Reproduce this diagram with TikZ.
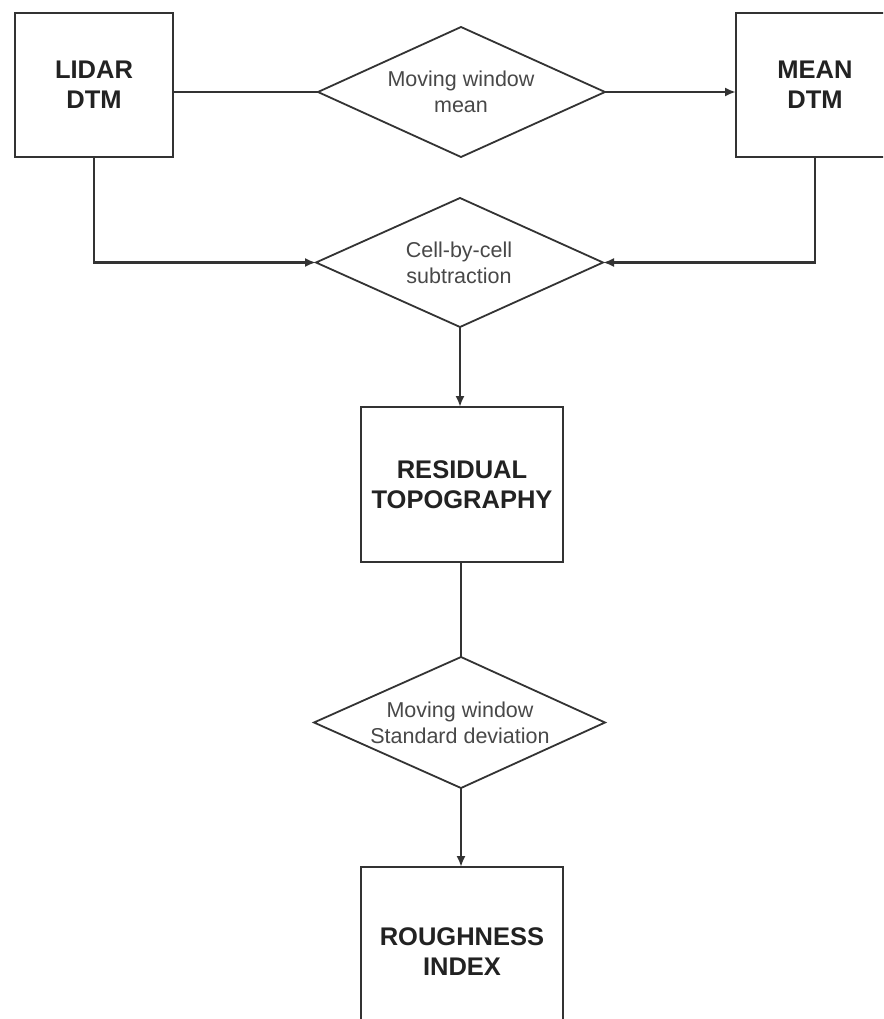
\documentclass[tikz,border=0pt]{standalone}
\usepackage{fontspec}
\setmainfont{Liberation Sans}
\usetikzlibrary{arrows.meta}
\definecolor{linec}{HTML}{333333}
\definecolor{boxtext}{HTML}{222222}
\definecolor{diatext}{HTML}{484848}
\tikzset{
  box/.style={draw=linec, line width=2.2pt, fill=white, align=center, inner sep=0pt, outer sep=0pt,
    text=boxtext, font=\fontsize{25.5}{30}\selectfont\bfseries},
  diatxt/.style={align=center, inner sep=0pt, outer sep=0pt,
    text=diatext, font=\fontsize{21.5}{26}\selectfont},
  diaedge/.style={draw=linec, line width=1.8pt, line join=miter},
  conn/.style={draw=linec, line width=2.2pt},
  arr/.style={conn, -{Latex[length=11pt,width=9pt]}}
}
\begin{document}
\begin{tikzpicture}[x=1pt,y=-1pt]
\useasboundingbox (0,0) rectangle (883,1019);
\clip (0,0) rectangle (883,1019);
\fill[white] (0,0) rectangle (883,1019);
% boxes
\node[box, minimum width=158pt, minimum height=144pt] (lidar) at (94,85) {LIDAR\\DTM};
\node[box, minimum width=158pt, minimum height=144pt] (mean) at (815,85) {MEAN\\DTM};
\node[box, minimum width=202pt, minimum height=155pt] (res) at (462,484.5) {RESIDUAL\\TOPOGRAPHY};
\node[box, minimum width=202pt, minimum height=170pt] (rough) at (462,952) {ROUGHNESS\\INDEX};
% diamond 1
\coordinate (d1n) at (461,27);
\coordinate (d1e) at (605,92);
\coordinate (d1s) at (461,157);
\coordinate (d1w) at (318,92);
\draw[diaedge] (d1n) -- (d1e) -- (d1s) -- (d1w) -- cycle;
\node[diatxt] (d1) at (461,92) {Moving window\\mean};
% diamond 2
\coordinate (d2n) at (460,198);
\coordinate (d2e) at (603,262.5);
\coordinate (d2s) at (460,327);
\coordinate (d2w) at (316,262.5);
\draw[diaedge] (d2n) -- (d2e) -- (d2s) -- (d2w) -- cycle;
\node[diatxt] (d2) at (459,263) {Cell-by-cell\\subtraction};
% diamond 3
\coordinate (d3n) at (461,657);
\coordinate (d3e) at (605,722.5);
\coordinate (d3s) at (461,788);
\coordinate (d3w) at (314,722.5);
\draw[diaedge] (d3n) -- (d3e) -- (d3s) -- (d3w) -- cycle;
\node[diatxt] (d3) at (460,723) {Moving window\\Standard deviation};
% connectors
\draw[conn] (lidar.east |- d1w) -- (d1w);
\draw[arr] (d1e) -- (mean.west |- d1e);
\draw[arr] (lidar.south) |- (d2w);
\draw[arr] (mean.south) |- (d2e);
\draw[arr] (d2s) -- (d2s |- res.north);
\draw[conn] (d3n |- res.south) -- (d3n);
\draw[arr] (d3s) -- (d3s |- rough.north);
\end{tikzpicture}
\end{document}
